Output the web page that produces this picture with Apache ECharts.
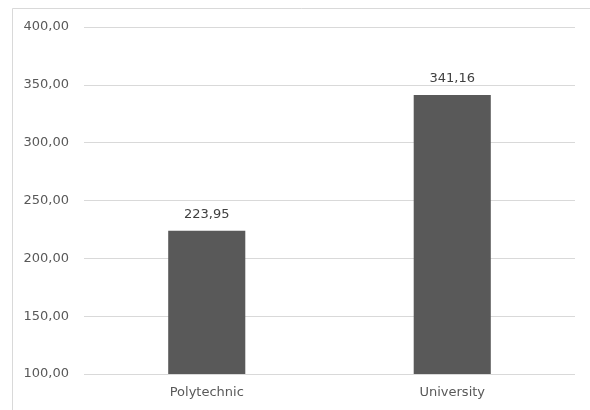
<!DOCTYPE html>
<html>
<head>
<meta charset="utf-8">
<script src="https://cdn.jsdelivr.net/npm/echarts@6/dist/echarts.min.js"></script>
<style>
  html, body { margin: 0; padding: 0; background: #fff; }
  #chart { width: 590px; height: 410px; }
</style>
</head>
<body>
<div id="chart"></div>
<script>
// Institution types and their values
const categories = ['Polytechnic', 'University'];
const values = [223.95, 341.16];
// Value axis range
const yMin = 100;
const yMax = 400;
const yStep = 50;

const fmt = v => Number(v).toFixed(2).replace('.', ',');
const font = 'DejaVu Sans';

const chart = echarts.init(document.getElementById('chart'), null, { renderer: 'canvas' });
chart.setOption({
  animation: false,
  backgroundColor: '#ffffff',
  graphic: [{
    type: 'rect',
    shape: { x: 12.5, y: 8.5, width: 620, height: 440 },
    style: { fill: 'none', stroke: '#d9d9d9', lineWidth: 1 },
    silent: true
  }],
  grid: { left: 84, right: 15, top: 27, bottom: 36 },
  xAxis: {
    type: 'category',
    data: categories,
    axisLine: { show: false },
    axisTick: { show: false },
    axisLabel: { color: '#595959', fontFamily: font, fontSize: 13, margin: 12 }
  },
  yAxis: {
    type: 'value',
    min: yMin,
    max: yMax,
    interval: yStep,
    axisLine: { show: false },
    axisTick: { show: false },
    splitLine: { lineStyle: { color: '#d9d9d9', width: 1 } },
    axisLabel: { color: '#595959', fontFamily: font, fontSize: 13, margin: 15, formatter: fmt }
  },
  series: [{
    type: 'bar',
    data: values,
    barWidth: '31.4%',
    itemStyle: { color: '#595959' },
    label: {
      show: true,
      position: 'top',
      distance: 10,
      color: '#404040',
      fontFamily: font,
      fontSize: 13,
      formatter: p => fmt(p.value)
    }
  }]
});
</script>
</body>
</html>
